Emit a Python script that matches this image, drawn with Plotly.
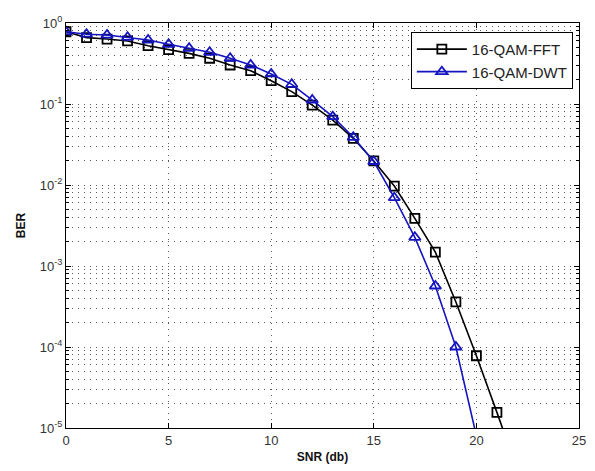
import plotly.graph_objects as go

snr_fft = [0, 1, 2, 3, 4, 5, 6, 7, 8, 9, 10, 11, 12, 13, 14, 15, 16, 17, 18, 19, 20, 21, 22]
ber_fft = [0.78, 0.66, 0.634, 0.60, 0.525, 0.469, 0.422, 0.367, 0.303, 0.258, 0.194, 0.142,
           0.097, 0.0634, 0.0377, 0.0198, 0.0097, 0.00388, 0.00148, 3.6e-4, 7.8e-5, 1.56e-5, 3e-6]

snr_dwt = [0, 1, 2, 3, 4, 5, 6, 7, 8, 9, 10, 11, 12, 13, 14, 15, 16, 17, 18, 19, 20]
ber_dwt = [0.78, 0.727, 0.71, 0.666, 0.617, 0.546, 0.487, 0.435, 0.367, 0.303, 0.235, 0.175,
           0.112, 0.0698, 0.0388, 0.0195, 0.00697, 0.00226, 5.66e-4, 1.0e-4, 8e-6]

x_ticks = [0, 5, 10, 15, 20, 25]
y_ticks = [1e-5, 1e-4, 1e-3, 1e-2, 1e-1, 1]
y_ticktext = ["10<sup>-5</sup>", "10<sup>-4</sup>", "10<sup>-3</sup>",
              "10<sup>-2</sup>", "10<sup>-1</sup>", "10<sup>0</sup>"]

series_names = ["16-QAM-FFT", "16-QAM-DWT"]

BLUE = "#1414c0"
GRID = "#5a5a5a"
DOT = "1px,5px"

fig = go.Figure()
fig.add_trace(go.Scatter(
    x=snr_fft, y=ber_fft, name=series_names[0], mode="lines+markers",
    line=dict(color="black", width=1.6),
    marker=dict(symbol="square-open", size=9, color="black", line=dict(width=1.8, color="black")),
))
fig.add_trace(go.Scatter(
    x=snr_dwt, y=ber_dwt, name=series_names[1], mode="lines+markers",
    line=dict(color=BLUE, width=1.6),
    marker=dict(symbol="triangle-up-open", size=10, color=BLUE, line=dict(width=1.8, color=BLUE)),
))

fig.update_layout(
    width=595, height=471,
    margin=dict(l=66, r=9, t=23, b=43),
    paper_bgcolor="white", plot_bgcolor="white",
    font=dict(family="Liberation Sans, Arial, sans-serif", size=13, color="#222"),
    showlegend=True,
    legend=dict(
        x=0.988, y=0.978, xanchor="right", yanchor="top",
        bgcolor="white", bordercolor="black", borderwidth=1,
        font=dict(size=15, color="#222"),
        tracegroupgap=0, itemwidth=50,
    ),
)

fig.update_xaxes(
    range=[0, 25], tickvals=x_ticks, ticks="inside", ticklen=5, tickcolor="black",
    showline=True, linecolor="black", linewidth=1, mirror="ticks",
    showgrid=True, gridcolor=GRID, griddash=DOT, gridwidth=1,
    zeroline=False,
    title=dict(text="<b>SNR (db)</b>", font=dict(size=12, color="#111"), standoff=6),
    tickfont=dict(size=13, color="#333"),
)
fig.update_yaxes(
    type="log", range=[-5, 0], tickvals=y_ticks, ticktext=y_ticktext,
    ticks="inside", ticklen=5, tickcolor="black",
    showline=True, linecolor="black", linewidth=1, mirror="ticks",
    showgrid=True, gridcolor=GRID, griddash=DOT, gridwidth=1,
    minor=dict(dtick="D1", ticks="inside", ticklen=3, tickcolor="black",
               showgrid=True, gridcolor=GRID, griddash=DOT, gridwidth=1),
    title=dict(text="<b>BER</b>", font=dict(size=12, color="#111"), standoff=11),
    tickfont=dict(size=13, color="#333"),
)

fig.write_html(
    "out.html",
    config={"displayModeBar": False, "staticPlot": True},
    post_script="document.body.style.margin='0';document.body.style.padding='0';",
)
